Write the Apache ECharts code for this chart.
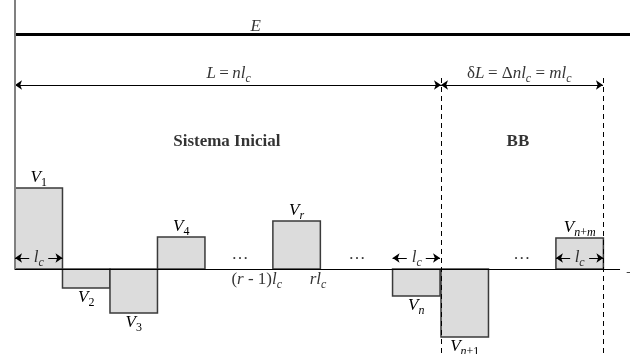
<!DOCTYPE html>
<html><head><meta charset="utf-8">
<script src="https://cdn.jsdelivr.net/npm/echarts@6/dist/echarts.min.js"></script>
<style>html,body{margin:0;padding:0;background:#fff}#c{width:630px;height:354px}</style>
</head><body><div id="c"></div>
<script>
// Bars: subscript of V, start (in units of l_c), height (arbitrary units)
const barSub   = ['1', '2', '3', '4', 'r', 'n', 'n+1', 'n+m'];
const barStart = [0, 1, 2, 3, 5.43, 7.95, 8.97, 11.39];
const barValue = [81, -19, -44, 32, 48, -27, -68, 31];

// Boundaries
const xEnd = 12.95;          // right edge of drawing
const lEnd = 8.97;           // end of initial system L = n l_c
const dEnd = 12.38;          // end of BB  (δL = m l_c)
const yE = 235, yL = 184, yLc = 11, yTop = 269, yBot = -85;

const FONT = 'Liberation Serif';
const rich = {
  i: {fontFamily: FONT, fontStyle: 'italic', fontSize: 17, lineHeight: 21, color: '#000'},
  r: {fontFamily: FONT, fontSize: 17, lineHeight: 21, color: '#000'},
  s: {fontFamily: FONT, fontStyle: 'italic', fontSize: 12, lineHeight: 13, verticalAlign: 'bottom', color: '#000'},
  u: {fontFamily: FONT, fontSize: 12, lineHeight: 13, verticalAlign: 'bottom', color: '#000'},
  b: {fontFamily: FONT, fontWeight: 'bold', fontSize: 17, lineHeight: 21, color: '#000'},
  d: {fontFamily: FONT, fontSize: 15, lineHeight: 21, color: '#000'}
};
function subTokens(t) {
  return t.split('').map(c => /[a-z]/.test(c) ? '{s|' + c + '}' : '{u|' + c + '}').join('');
}

// Annotation texts: [x, y, rich text, align]
const notes = [
  [5.07, 242, '{i|E}', 'center'],
  [4.5, 195, '{i|L} {r|=} {i|nl}' + subTokens('c'), 'center'],
  [10.62, 195, '{r|δ}{i|L} {r|= Δ}{i|nl}' + subTokens('c') + '{r| = }{i|ml}' + subTokens('c'), 'center'],
  [4.46, 127, '{b|Sistema Inicial}', 'center'],
  [10.59, 127, '{b|BB}', 'center'],
  [-0.06, -11, '{d|0}', 'left'],
  [5.09, -11, '{r|(}{i|r}{r| - 1)}{i|l}' + subTokens('c'), 'center'],
  [6.38, -11, '{i|rl}' + subTokens('c'), 'center'],
  [4.74, 14, '{r|…}', 'center'],
  [7.2, 14, '{r|…}', 'center'],
  [10.67, 14, '{r|…}', 'center'],
  [0.5, yLc, '{i|l}' + subTokens('c'), 'center'],
  [8.46, yLc, '{i|l}' + subTokens('c'), 'center'],
  [11.89, yLc, '{i|l}' + subTokens('c'), 'center']
];
// l_c dimension arrows: [start, end]
const lcSpans = [[0, 1], [7.95, 8.95], [11.39, 12.39]];

function arrowLine(x1, y1, x2, y2, s1, s2, style) {
  return [
    {coord: [x1, y1], symbol: s1, symbolSize: 7},
    {coord: [x2, y2], symbol: s2, symbolSize: 7, lineStyle: style}
  ];
}

const mlData = [];
const solid = {color: '#000', width: 1, type: 'solid'};
mlData.push(arrowLine(0, yE, xEnd, yE, 'none', 'none', {color: '#000', width: 3, type: 'solid'}));
mlData.push(arrowLine(0, yL, lEnd, yL, 'arrow', 'arrow', solid));
mlData.push(arrowLine(lEnd, yL, dEnd, yL, 'arrow', 'arrow', solid));
mlData.push(arrowLine(0, 0, 12.74, 0, 'none', 'none', {color: '#000', width: 1.2, type: 'solid'}));
mlData.push(arrowLine(0, 0, 0, yTop, 'none', 'none', {color: '#808080', width: 2, type: 'solid'}));
mlData.push(arrowLine(lEnd, 191, lEnd, yBot, 'none', 'none', {color: '#000', width: 1, type: [5, 4]}));
mlData.push(arrowLine(dEnd, 191, dEnd, yBot, 'none', 'none', {color: '#000', width: 1, type: [5, 4]}));
mlData.push(arrowLine(12.88, -3, 12.95, -3, 'none', 'none', {color: '#444', width: 1, type: 'solid'}));
lcSpans.forEach(([a, b]) => {
  const m = (a + b) / 2;
  mlData.push(arrowLine(m - 0.2, yLc, a, yLc, 'none', 'arrow', solid));
  mlData.push(arrowLine(m + 0.2, yLc, b, yLc, 'none', 'arrow', solid));
});

const chart = echarts.init(document.getElementById('c'), null, {renderer: 'canvas'});
chart.setOption({
  animation: false,
  backgroundColor: '#fff',
  grid: {left: 15, right: 0, top: 0, bottom: 0},
  xAxis: {type: 'value', min: 0, max: xEnd, show: false},
  yAxis: {type: 'value', min: yBot, max: yTop, show: false},
  series: [
    {
      type: 'custom',
      data: barStart.map((s, i) => [s, barValue[i], i]),
      encode: {x: 0, y: 1},
      renderItem: function (params, api) {
        const s = api.value(0), v = api.value(1), idx = api.value(2);
        const p0 = api.coord([s, 0]);
        const p1 = api.coord([s + 1, v]);
        return {
          type: 'group',
          children: [
            {type: 'rect',
             shape: {x: p0[0], y: Math.min(p0[1], p1[1]), width: p1[0] - p0[0], height: Math.abs(p1[1] - p0[1])},
             style: {fill: '#dcdcdc', stroke: '#3a3a3a', lineWidth: 1.5}},
            {type: 'text',
             x: (p0[0] + p1[0]) / 2, y: v >= 0 ? p1[1] - 10 : p1[1] + 10,
             style: {text: '{i|V}' + subTokens(barSub[idx]), rich: rich, align: 'center', verticalAlign: 'middle'}}
          ]
        };
      },
      z: 2
    },
    {
      type: 'scatter',
      symbolSize: 1,
      itemStyle: {color: 'rgba(0,0,0,0)'},
      data: notes.map(n => ({
        value: [n[0], n[1]],
        label: {show: true, position: 'inside', formatter: n[2], rich: rich, align: n[3], verticalAlign: 'middle'}
      })),
      markLine: {silent: true, animation: false, label: {show: false}, symbol: 'none', data: mlData},
      z: 3
    }
  ]
});
</script></body></html>
